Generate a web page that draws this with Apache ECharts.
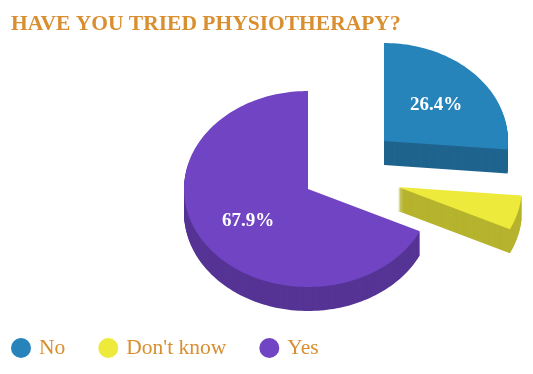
<!DOCTYPE html>
<html><head><meta charset="utf-8">
<script src="https://cdn.jsdelivr.net/npm/echarts@6/dist/echarts.min.js"></script>
<style>html,body{margin:0;padding:0;background:#fff}#chart{width:533px;height:374px}</style>
</head><body><div id="chart"></div>
<script>
const titleText = 'HAVE YOU TRIED PHYSIOTHERAPY?';
const categories = ['No', "Don't know", 'Yes'];
const values = [26.4, 5.7, 67.9];
const showLabel = [true, false, true];

// styles
const topColors = ['#2684bb', '#eeea3b', '#7144c4'];
const sideColors = ['#1f648e', '#b6b32e', '#553495'];
const sliceShift = [[76, -48], [90, -2], [0, 0]];
const pie = {cx: 308, cy: 189, rx: 124, ry: 98, depth: 24, labelAt: 0.57};
const orange = '#d98e2f';

const total = values.reduce((a, b) => a + b, 0);
function startAngle(i) { let s = 0; for (let k = 0; k < i; k++) s += values[k]; return 90 - s / total * 360; }

function makeRender(i) {
  return function (params, api) {
    const v = api.value(0);
    const a0 = startAngle(i);
    const a1 = a0 - v / total * 360;
    const ox = pie.cx + sliceShift[i][0], oy = pie.cy + sliceShift[i][1];
    const pts = [[ox, oy]];
    const n = Math.max(2, Math.ceil(Math.abs(a1 - a0) / 1.5));
    for (let k = 0; k <= n; k++) {
      const a = (a0 + (a1 - a0) * k / n) * Math.PI / 180;
      pts.push([ox + pie.rx * Math.cos(a), oy - pie.ry * Math.sin(a)]);
    }
    const children = [];
    for (let d = pie.depth; d >= 1; d--) {
      children.push({type: 'polygon', silent: true, shape: {points: pts.map(p => [p[0], p[1] + d])}, style: {fill: sideColors[i]}});
    }
    children.push({type: 'polygon', shape: {points: pts}, style: {fill: api.visual('color')}});
    if (showLabel[i]) {
      const am = (a0 + a1) / 2 * Math.PI / 180;
      children.push({type: 'text', silent: true, style: {
        text: v.toFixed(1) + '%',
        x: ox + pie.labelAt * pie.rx * Math.cos(am),
        y: oy - pie.labelAt * pie.ry * Math.sin(am) + 2,
        align: 'center', verticalAlign: 'middle', fill: '#fff',
        fontSize: 19, fontWeight: 'bold', fontFamily: 'Liberation Serif'
      }});
    }
    return {type: 'group', children};
  };
}

const chart = echarts.init(document.getElementById('chart'), null, {renderer: 'canvas'});
chart.setOption({
  backgroundColor: '#fff',
  animation: false,
  title: {
    text: titleText, left: 6, top: 8,
    textStyle: {color: orange, fontFamily: 'Liberation Serif', fontWeight: 'bold', fontSize: 21.5}
  },
  legend: {
    data: categories, icon: 'circle', itemWidth: 20, itemHeight: 20,
    left: 6, top: 332, itemGap: 33,
    textStyle: {color: orange, fontFamily: 'Liberation Serif', fontSize: 21.5, padding: [0, 0, 0, 3]}
  },
  series: categories.map((name, i) => ({
    type: 'custom', name, coordinateSystem: 'none',
    data: [values[i]], itemStyle: {color: topColors[i]},
    renderItem: makeRender(i)
  }))
});
</script></body></html>
